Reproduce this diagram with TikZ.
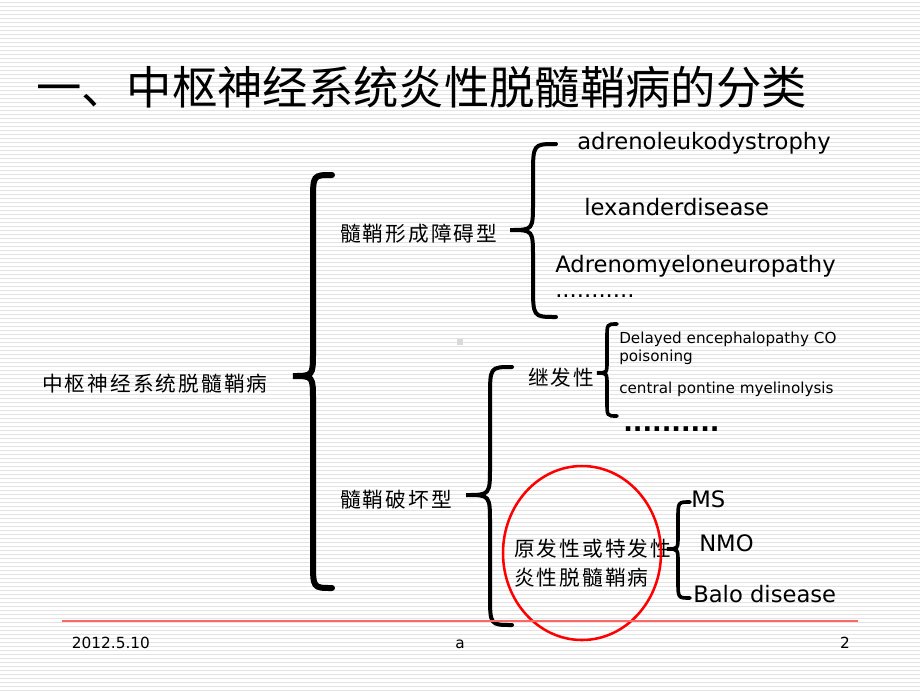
\documentclass[tikz,border=0pt]{standalone}
\usepackage{fontspec}
\setmainfont{DejaVu Sans}
\newfontfamily\cjk[LetterSpace=10]{Noto Sans CJK SC}
\newfontfamily\cjktitle{Noto Sans CJK SC}
% 花括号: #2 端点x, #3 竖线x, #4 尖点x, #5 上端y, #6 尖点y, #7 下端y
\newcommand{\kuohao}[7][]{%
  \draw[#1] (#2,#5) .. controls (#3,#5) .. (#3,{#5+1.4*(#2-#3)})
    -- (#3,{#6-1.2*(#3-#4)}) .. controls (#3,#6) .. (#4,#6)
    .. controls (#3,#6) .. (#3,{#6+1.2*(#3-#4)})
    -- (#3,{#7-1.4*(#2-#3)}) .. controls (#3,#7) .. (#2,#7);}
\begin{document}
\begin{tikzpicture}[x=0.75pt,y=-0.75pt,
    hanzi/.style={anchor=west,inner sep=0pt,font=\cjk\fontsize{15.5}{19}\selectfont},
    yingwen/.style={anchor=base west,inner sep=0pt,font=\fontsize{17}{20}\selectfont},
    xiaozi/.style={anchor=base west,inner sep=0pt,font=\fontsize{11.4}{13}\selectfont},
    yejiao/.style={anchor=base,inner sep=0pt,font=\fontsize{11.5}{13}\selectfont},
    kuo/.style={line width=#1,line cap=round,line join=miter}]
        % 背景
        \useasboundingbox (0,0) rectangle (920,690);
        \fill[white] (0,0) rectangle (920,690);
        \foreach \y in {2,6,...,690}
            \draw[gray!22,line width=0.75pt] (0,\y) -- (920,\y);
        \fill[gray!30] (457,339) rectangle (463,345);
        % 标题
        \node[anchor=west,inner sep=0pt,font=\cjktitle\fontsize{34}{38}\selectfont] (biaoti) at (36,87) {一、中枢神经系统炎性脱髓鞘病的分类};
        % 第一层
        \node[hanzi] (zongbing) at (42,384) {中枢神经系统脱髓鞘病};
        \kuohao[kuo=4.5pt]{332}{313}{293}{175}{376}{588}
        % 髓鞘形成障碍型
        \node[hanzi] (xingcheng) at (340,234) {髓鞘形成障碍型};
        \kuohao[kuo=3pt]{556}{533}{510}{144}{230}{317}
        \node[yingwen] (ald) at (577,149) {adrenoleukodystrophy};
        \node[yingwen] (alex) at (584,215) {lexanderdisease};
        \node[yingwen] (amn) at (555,272) {Adrenomyeloneuropathy};
        \node[yingwen] (dian1) at (555,297) {...........};
        % 髓鞘破坏型
        \node[hanzi] (pohuai) at (340,500) {髓鞘破坏型};
        \kuohao[kuo=3pt]{512}{490}{466}{367}{495}{625}
        % 继发性
        \node[hanzi] (jifa) at (528,378) {继发性};
        \kuohao[kuo=2.7pt]{617}{607}{597}{324}{373}{416}
        \node[xiaozi] (co) at (619,343) {Delayed encephalopathy CO};
        \node[xiaozi] (co2) at (619,361) {poisoning};
        \node[xiaozi] (cpm) at (619,393) {central pontine myelinolysis};
        \node[anchor=base west,inner sep=0pt,font=\bfseries\fontsize{19}{22}\selectfont] (dian2) at (623,431) {..........};
        % 原发性
        \node[hanzi] (yuanfa) at (514,549) {原发性或特发性};
        \node[hanzi] (yuanfa2) at (514,578) {炎性脱髓鞘病};
        \draw[red,line width=1.9pt] (582,553) ellipse [x radius=79,y radius=87];
        \kuohao[kuo=2.7pt]{690}{678}{667}{502}{549}{598}
        \node[yingwen] (ms) at (691,507) {MS};
        \node[yingwen] (nmo) at (699,551) {NMO};
        \node[yingwen] (balo) at (693,602) {Balo disease};
        % 页脚
        \draw[red!60,line width=1.5pt] (62,621) -- (858,621);
        \node[yejiao] (riqi) at (111,648) {2012.5.10};
        \node[yejiao] (zhong) at (460,648) {a};
        \node[yejiao] (yema) at (845,648) {2};
    \end{tikzpicture}
\end{document}
